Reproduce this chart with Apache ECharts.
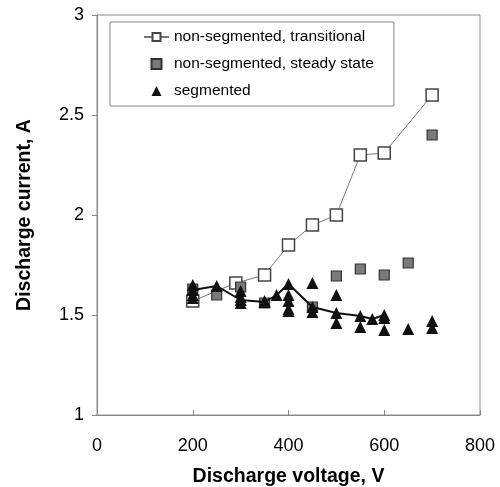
<!DOCTYPE html>
<html>
<head>
<meta charset="utf-8">
<script src="https://cdn.jsdelivr.net/npm/echarts@6/dist/echarts.min.js"></script>
<style>
  html, body { margin: 0; padding: 0; background: #fff; }
  #main { width: 500px; height: 487px; }
</style>
</head>
<body>
<div id="main"></div>
<script>
// data: [voltage V, current A]
var transitional = [[200, 1.57], [290, 1.66], [350, 1.70], [400, 1.85], [450, 1.95],
	[500, 2.0], [550, 2.30], [600, 2.31], [700, 2.60]];
var steadyState = [[200, 1.63], [250, 1.60], [300, 1.64], [350, 1.56], [450, 1.54],
	[500, 1.695], [550, 1.73], [600, 1.70], [650, 1.76], [700, 2.40]];
// segmented points joined by the line
var segmentedLine = [[200, 1.625], [250, 1.645], [300, 1.575], [350, 1.565], [375, 1.60],
	[400, 1.655], [450, 1.54], [500, 1.51], [550, 1.495], [575, 1.48], [600, 1.50]];
// other segmented points, not joined
var segmentedExtra = [[200, 1.65], [200, 1.60], [200, 1.585], [300, 1.62], [300, 1.59], [300, 1.56],
	[350, 1.57], [400, 1.60], [400, 1.57], [400, 1.53], [400, 1.52], [450, 1.66], [450, 1.515],
	[500, 1.60], [500, 1.46], [550, 1.44], [600, 1.485], [600, 1.425], [650, 1.43],
	[700, 1.47], [700, 1.435]];

var names = ['non-segmented, transitional', 'non-segmented, steady state', 'segmented'];

var chart = echarts.init(document.getElementById('main'));
var font = 'Liberation Sans, Arial, sans-serif';

var option = {
	animation: false,
	textStyle: { fontFamily: font },
	grid: {
		left: 97, right: 20, top: 15, bottom: 72,
		outerBoundsMode: 'none',
		show: true, borderColor: '#888', borderWidth: 1
	},
	legend: {
		orient: 'vertical',
		left: 110, top: 22,
		padding: [7, 20, 7, 33],
		itemWidth: 25, itemHeight: 10, itemGap: 11,
		borderColor: '#888', borderWidth: 1,
		textStyle: { fontSize: 15.5, color: '#000', fontFamily: font },
		data: [
			{ name: names[0] },
			{ name: names[1], icon: 'path://M0,0h10v10h-10z' },
			{ name: names[2], icon: 'path://M5,0L10,10L0,10z' }
		]
	},
	xAxis: {
		type: 'value', min: 0, max: 800, interval: 200,
		name: 'Discharge voltage, V', nameLocation: 'middle', nameGap: 52,
		nameTextStyle: { fontSize: 19.5, fontWeight: 'bold', color: '#000' },
		axisLine: { lineStyle: { color: '#888' } },
		axisTick: { inside: true, length: 5, lineStyle: { color: '#888' } },
		axisLabel: { fontSize: 18, color: '#000', margin: 22 },
		splitLine: { show: false }
	},
	yAxis: {
		type: 'value', min: 1, max: 3, interval: 0.5,
		name: 'Discharge current, A', nameLocation: 'middle', nameGap: 62,
		nameTextStyle: { fontSize: 19.5, fontWeight: 'bold', color: '#000' },
		axisLine: { show: true, lineStyle: { color: '#888' } },
		axisTick: { show: true, length: 5, lineStyle: { color: '#888' } },
		axisLabel: { fontSize: 18, color: '#000', margin: 13 },
		splitLine: { show: false }
	},
	series: [
		{
			name: names[0], type: 'line', data: transitional,
			symbol: 'rect', symbolSize: 12, showAllSymbol: true,
			lineStyle: { color: '#777', width: 1 },
			itemStyle: { color: '#fff', borderColor: '#444', borderWidth: 1.5 },
			z: 2
		},
		{
			name: names[1], type: 'scatter', data: steadyState,
			symbol: 'rect', symbolSize: 10,
			itemStyle: { color: '#7a7a7a', borderColor: '#333', borderWidth: 1.2, opacity: 1 },
			z: 3
		},
		{
			name: names[2], type: 'line', data: segmentedLine,
			symbol: 'triangle', symbolSize: 12, showAllSymbol: true,
			lineStyle: { color: '#111', width: 2 },
			itemStyle: { color: '#111' },
			z: 4
		},
		{
			name: names[2], type: 'scatter', data: segmentedExtra,
			symbol: 'triangle', symbolSize: 12,
			itemStyle: { color: '#111', opacity: 1 },
			z: 4
		}
	]
};

chart.setOption(option);
</script>
</body>
</html>
